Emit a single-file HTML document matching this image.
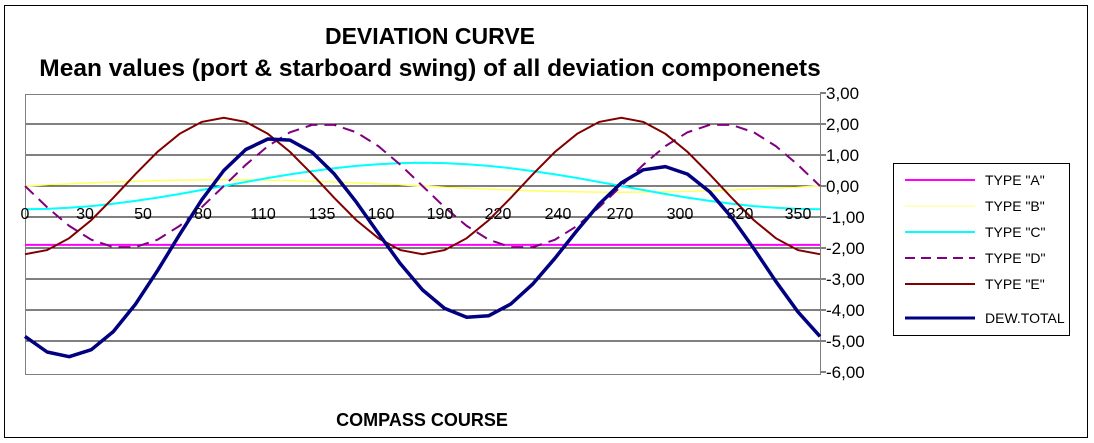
<!DOCTYPE html>
<html><head><meta charset="utf-8">
<style>
html,body{margin:0;padding:0;background:#fff;}
svg{display:block;font-family:"Liberation Sans",Arial,sans-serif;}
</style></head>
<body>
<svg id="s" width="1094" height="443" viewBox="0 0 1094 443">
<rect x="0" y="0" width="1094" height="443" fill="#fff"/>
<rect x="4.5" y="5.5" width="1083" height="432" fill="none" stroke="#000" stroke-width="1"/>
<text x="430" y="44" font-size="23" font-weight="bold" text-anchor="middle">DEVIATION CURVE</text>
<text x="430" y="76" font-size="24.5" font-weight="bold" text-anchor="middle">Mean values (port &amp; starboard swing) of all  deviation componenets</text>
<g id="grid"></g>
<rect x="25.5" y="94.5" width="795" height="280" fill="none" stroke="#808080"/>
<g id="series"></g>
<g font-size="17" id="ylab"></g>
<g font-size="16" id="xlab"></g>
<text x="422" y="426" font-size="18" font-weight="bold" text-anchor="middle">COMPASS COURSE</text>
<rect x="893.5" y="163.5" width="176" height="172" fill="#fff" stroke="#000"/>
<g font-size="14">
<line x1="905" y1="180" x2="975" y2="180" stroke="#ff00ff" stroke-width="2"/><text x="985" y="185">TYPE "A"</text>
<line x1="905" y1="206" x2="975" y2="206" stroke="#ffff80" stroke-width="1"/><text x="985" y="211">TYPE "B"</text>
<line x1="905" y1="232" x2="975" y2="232" stroke="#00ffff" stroke-width="2"/><text x="985" y="237">TYPE "C"</text>
<line x1="905" y1="258" x2="975" y2="258" stroke="#800080" stroke-width="2" stroke-dasharray="10,6"/><text x="985" y="263">TYPE "D"</text>
<line x1="905" y1="284" x2="975" y2="284" stroke="#800000" stroke-width="2"/><text x="985" y="289">TYPE "E"</text>
<line x1="905" y1="318" x2="975" y2="318" stroke="#000080" stroke-width="3"/><text x="985" y="323">DEW.TOTAL</text>
</g>
</svg>
<script>
var NS="http://www.w3.org/2000/svg";
function el(p,t,a,txt){var e=document.createElementNS(NS,t);for(var k in a)e.setAttribute(k,a[k]);if(txt!==undefined)e.textContent=txt;document.getElementById(p).appendChild(e);return e;}
function Y(v){return 186-v*31;}
function X(d){return 25+d/360*795;}
var labs=["3,00","2,00","1,00","0,00","-1,00","-2,00","-3,00","-4,00","-5,00","-6,00"];
for(var i=0;i<10;i++){var v=3-i,y=Y(v);
 if(i>0&&i<9)el("grid","line",{x1:25,x2:820,y1:y,y2:y,stroke:"#000","stroke-width":1});
 el("grid","line",{x1:820,x2:826,y1:y,y2:y,stroke:"#000"});
 el("ylab","text",{x:826,y:y+6},labs[i]);}
var xl=[[0,25],[30,85],[50,143],[80,203],[110,263],[135,322],[160,381],[190,440],[220,498],[240,558],[270,620],[300,680],[320,740],[350,798]];
xl.forEach(function(p){el("xlab","text",{x:p[1],y:219,"text-anchor":"middle"},p[0]);});
function r(d){return d*Math.PI/180;}
var f={
A:function(d){return -1.9;},
B:function(d){return 0.2*Math.sin(r(d));},
C:function(d){return -0.75*Math.cos(r(d));},
D:function(d){return -2*Math.sin(r(2*d));},
E:function(d){return -2.2*Math.cos(r(2*d));}};
f.T=function(d){return f.A(d)+f.B(d)+f.C(d)+f.D(d)+f.E(d);};
function pts(fn){var s="";for(var d=0;d<=360;d+=10)s+=X(d).toFixed(1)+","+Y(fn(d)).toFixed(1)+" ";return s;}
el("series","polyline",{points:pts(f.A),fill:"none",stroke:"#ff00ff","stroke-width":2});
el("series","polyline",{points:pts(f.B),fill:"none",stroke:"#ffff60","stroke-width":1.5});
el("series","polyline",{points:pts(f.C),fill:"none",stroke:"#00ffff","stroke-width":2});
el("series","polyline",{points:pts(f.D),fill:"none",stroke:"#800080","stroke-width":2,"stroke-dasharray":"12,7"});
el("series","polyline",{points:pts(f.E),fill:"none",stroke:"#800000","stroke-width":2});
el("series","polyline",{points:pts(f.T),fill:"none",stroke:"#000080","stroke-width":3.5,"stroke-linejoin":"round"});
</script>
</body></html>
